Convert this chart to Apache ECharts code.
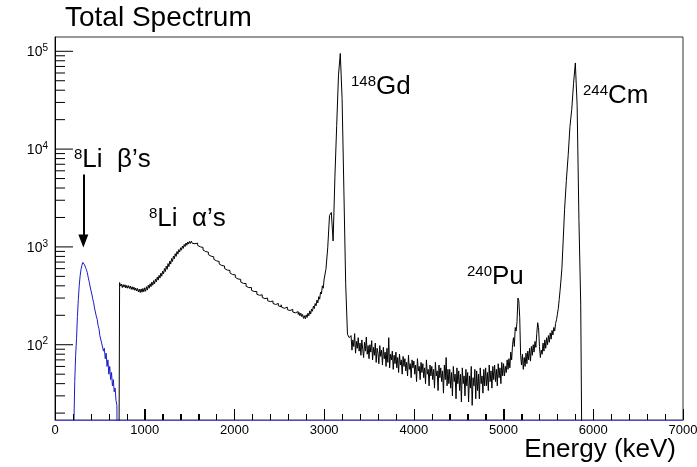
<!DOCTYPE html>
<html>
<head>
<meta charset="utf-8">
<script src="https://cdn.jsdelivr.net/npm/echarts@6/dist/echarts.min.js"></script>
<style>
html,body{margin:0;padding:0;background:#fff;}
#chart{width:697px;height:467px;}
</style>
</head>
<body>
<div id="chart"></div>
<script>
// ---------------- data ----------------
// x axis (keV) and y axis (counts, log) tick values
const xTickValues = [0, 1000, 2000, 3000, 4000, 5000, 6000, 7000];
const xMinorTicks = [200,400,600,800, 1200,1400,1600,1800, 2200,2400,2600,2800,
                     3200,3400,3600,3800, 4200,4400,4600,4800, 5200,5400,5600,5800,
                     6200,6400,6600,6800];
const yMajorTicks = [100, 1000, 10000, 100000];
const yMinorTicks = [20,30,40,50,60,70,80,90,
                     200,300,400,500,600,700,800,900,
                     2000,3000,4000,5000,6000,7000,8000,9000,
                     20000,30000,40000,50000,60000,70000,80000,90000];

// 8Li beta spectrum (blue), 10 keV bins starting at 200 keV (1 = empty bin)
const betaStart = 200, betaBin = 10;
const betaCounts = [
  1, 14, 42, 78, 115, 195, 290, 400, 505, 590,
  650, 695, 675, 655, 620, 585, 545, 490, 445, 398,
  362, 330, 296, 272, 238, 216, 196, 182, 158, 146,
  124, 122, 104, 102, 86, 92, 72, 82, 60, 70,
  50, 60, 44, 52, 38, 44, 33, 36, 27, 24,
  1
];

// total alpha spectrum (black)
// 710 - 2990 keV (8Li alpha continuum), 10 keV bins
const alphaStartA = 710, alphaBinA = 10;
const alphaA = [
  1, 432, 398, 418, 384, 412, 388, 410, 380,
  404, 378, 402, 376, 398, 368, 392, 366, 388, 360,
  380, 354, 376, 346, 370, 342, 372, 344, 376, 348,
  382, 352, 392, 362, 406, 378, 420, 392, 438, 406,
  452, 420, 470, 440, 492, 458, 512, 480, 540, 502,
  566, 530, 600, 560, 636, 590, 676, 628, 718, 668,
  762, 710, 808, 756, 852, 800, 898, 844, 938, 888,
  980, 926, 1020, 966, 1060, 1008, 1096, 1040, 1124, 1070,
  1140, 1086, 1146, 1090, 1136, 1078, 1120, 1060, 1094, 1036,
  1060, 1002, 1024, 968, 988, 930, 952, 896, 918, 864,
  884, 834, 852, 804, 822, 776, 792, 748, 764, 720,
  736, 694, 710, 670, 686, 646, 662, 622, 638, 602,
  616, 580, 596, 562, 574, 542, 554, 522, 536, 506,
  518, 488, 500, 470, 484, 454, 466, 438, 452, 424,
  436, 410, 422, 396, 408, 384, 396, 372, 384, 360,
  372, 350, 362, 338, 350, 328, 340, 320, 332, 312,
  324, 304, 316, 296, 308, 288, 300, 282, 292, 276,
  286, 270, 280, 264, 274, 258, 270, 254, 264, 250,
  260, 244, 256, 240, 250, 236, 246, 232, 242, 228,
  238, 224, 234, 220, 230, 216, 226, 212, 222, 208,
  218, 204, 214, 198, 210, 194, 204, 186, 198, 184,
  202, 190, 210, 198, 222, 206, 232, 220, 248, 234,
  264, 250, 286, 268, 310, 292, 346, 330, 400, 378
];
// 3000 - 3280 keV (148Gd peak), 20 keV bins
const alphaStartF = 3000, alphaBinF = 20;
const alphaF = [470, 590, 980, 2100, 2250, 1150, 5200, 17500, 57000, 95000, 33000, 3800, 420, 128, 118];
// 3300 - 5050 keV (noisy continuum), 10 keV bins
const alphaStartG = 3300, alphaBinG = 10;
const alphaG = [
  124, 88, 112, 96, 130, 82, 108, 92, 118, 86,
  104, 78, 112, 90, 74, 106, 86, 120, 80, 98,
  72, 100, 84, 110, 70, 94, 78, 104, 66, 92,
  82, 64, 98, 76, 88, 62, 94, 72, 84, 60,
  92, 66, 118, 58, 80, 70, 86, 56, 78, 64,
  84, 58, 74, 52, 80, 62, 70, 50, 76, 60,
  72, 54, 66, 48, 78, 56, 64, 46, 70, 58,
  68, 50, 62, 42, 72, 54, 60, 44, 66, 52,
  64, 46, 58, 40, 70, 50, 56, 38, 62, 48,
  60, 44, 56, 36, 66, 48, 54, 34, 62, 46,
  58, 42, 54, 32, 62, 44, 74, 38, 56, 40,
  56, 36, 52, 30, 60, 42, 50, 28, 58, 40,
  54, 34, 50, 26, 58, 40, 48, 30, 56, 38,
  52, 26, 48, 36, 60, 24, 46, 38, 56, 28,
  54, 34, 50, 28, 58, 40, 48, 32, 56, 38,
  58, 38, 52, 34, 62, 42, 54, 36, 60, 44,
  62, 42, 56, 38, 64, 46, 58, 40, 66, 48,
  64, 48, 60, 52, 70, 56
];
// 5060 - 5650 keV (240Pu region), 10 keV bins
const alphaStartH = 5060, alphaBinH = 10;
const alphaH = [
  72, 58, 84, 70, 100, 118, 96, 150, 138, 172,
  300, 280, 190, 78, 62, 80, 56, 74, 60, 82,
  64, 86, 70, 92, 68, 96, 78, 100, 84, 108,
  94, 130, 168, 150, 96, 74, 88, 80, 104, 86,
  112, 92, 118, 100, 124, 106, 132, 114, 140, 126,
  150, 138, 165, 180, 205, 235, 290, 360, 460, 600
];
// 5660 - 5880 keV (244Cm peak), 20 keV bins
const alphaStartI = 5660, alphaBinI = 20;
const alphaI = [950, 2400, 4800, 8600, 17000, 25500, 47000, 76000, 28000, 1900, 260, 1];

// ---------------- build ----------------
function toPairs(start, bin, arr) { return arr.map((c, i) => [start + i * bin, c]); }
const alphaData = [].concat(
  toPairs(alphaStartA, alphaBinA, alphaA),
  toPairs(alphaStartF, alphaBinF, alphaF),
  toPairs(alphaStartG, alphaBinG, alphaG),
  toPairs(alphaStartH, alphaBinH, alphaH),
  toPairs(alphaStartI, alphaBinI, alphaI)
);
const betaData = toPairs(betaStart, betaBin, betaCounts);

const Y_MIN = 17, Y_MAX = 140000;
const chart = echarts.init(document.getElementById('chart'), null, {renderer: 'canvas'});
const FONT = '"Liberation Sans", Arial, Helvetica, sans-serif';

function yTickSeries(values, len) {
  return {
    type: 'custom', clip: false, z: 10,
    data: values.map(v => [xTickValues[0], v]),
    renderItem: function (params, api) {
      const p = api.coord([api.value(0), api.value(1)]);
      return {type: 'line', shape: {x1: p[0], y1: p[1], x2: p[0] + len, y2: p[1]},
              style: {stroke: '#000', lineWidth: 1}};
    }
  };
}
function xTickSeries(values, len) {
  return {
    type: 'custom', clip: false, z: 10,
    data: values.map(v => [v, 1000]),
    renderItem: function (params, api) {
      const px = Math.round(api.coord([api.value(0), api.value(1)])[0]) + 0.5;
      const yb = api.coord([api.value(0), Y_MIN])[1];
      return {type: 'line', shape: {x1: px, y1: yb, x2: px, y2: yb - len},
              style: {stroke: '#000', lineWidth: 1}};
    }
  };
}

function label(sup, main, x, y) {
  return {
    type: 'text', left: x, top: y, z: 20,
    style: {
      text: '{s|' + sup + '}{m|' + main + '}',
      fill: '#000',
      rich: {
        s: {fontSize: 15, lineHeight: 16, verticalAlign: 'top', fontFamily: FONT, fill: '#000'},
        m: {fontSize: 26, lineHeight: 28, verticalAlign: 'top', fontFamily: FONT, fill: '#000'}
      }
    }
  };
}

const option = {
  animation: false,
  grid: {left: 55, right: 14, top: 37, bottom: 47, outerBoundsMode: 'none',
         show: true, borderColor: '#333', borderWidth: 1},
  xAxis: {
    type: 'value', min: xTickValues[0], max: xTickValues[xTickValues.length - 1], interval: 1000,
    axisLine: {show: true, onZero: false, lineStyle: {color: '#4b4bd8', width: 1}},
    axisTick: {show: true, inside: true, length: 11, lineStyle: {color: '#000', width: 1}},
    minorTick: {show: true, splitNumber: 5, length: 6, lineStyle: {color: '#000', width: 1}},
    splitLine: {show: false},
    axisLabel: {fontSize: 13, color: '#000', margin: 4, fontFamily: FONT,
                formatter: function (v) { return String(v); }}
  },
  yAxis: {
    type: 'log', logBase: 10, min: Y_MIN, max: Y_MAX,
    axisLine: {show: true, onZero: false, lineStyle: {color: '#000', width: 1}},
    axisTick: {show: false},
    splitLine: {show: false},
    axisLabel: {
      margin: 7, color: '#000',
      formatter: function (v) {
        const l = Math.log10(v), e = Math.round(l);
        if (Math.abs(l - e) > 1e-6 || e < 2 || e > 5) return '';
        return '{b|10}{s|' + e + '}';
      },
      rich: {
        b: {fontSize: 14, lineHeight: 16, verticalAlign: 'bottom', fontFamily: FONT, color: '#000'},
        s: {fontSize: 10, lineHeight: 8, verticalAlign: 'top', fontFamily: FONT, color: '#000'}
      }
    }
  },
  series: [
    {
      name: 'total', type: 'line', step: 'end', symbol: 'none', clip: true,
      lineStyle: {color: '#000', width: 1}, data: alphaData
    },
    {
      name: '8Li beta', type: 'line', step: 'end', symbol: 'none', clip: true,
      lineStyle: {color: '#1c1cc8', width: 1}, data: betaData,
      markLine: {
        silent: true, symbol: ['none', 'triangle'], symbolSize: [10, 13],
        label: {show: false},
        lineStyle: {color: '#000', width: 2, type: 'solid'},
        data: [[{coord: [316, 5500]}, {coord: [316, 1150]}]]
      }
    },
    yTickSeries(yMajorTicks, 18),
    yTickSeries(yMinorTicks, 10),
    xTickSeries(xTickValues.slice(1, -1), 11),
    xTickSeries(xMinorTicks, 6)
  ],
  graphic: [
    {type: 'text', left: 65, top: 4, z: 20,
     style: {text: 'Total Spectrum', fontSize: 28, fontFamily: FONT, fill: '#000'}},
    {type: 'text', right: 21, top: 437, z: 20,
     style: {text: 'Energy (keV)', fontSize: 26, fontFamily: FONT, fill: '#000'}},
    label('8', 'Li  β’s', 74, 147),
    label('8', 'Li  α’s', 149, 206),
    label('148', 'Gd', 351, 74),
    label('240', 'Pu', 467, 264),
    label('244', 'Cm', 583, 83)
  ]
};
chart.setOption(option);
</script>
</body>
</html>
